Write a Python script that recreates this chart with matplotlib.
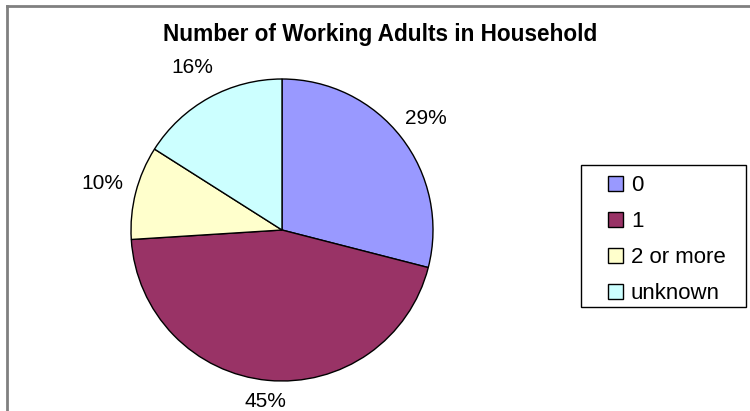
import numpy as np
import matplotlib
matplotlib.use("Agg")
import matplotlib.pyplot as plt
from matplotlib.lines import Line2D
from matplotlib.patches import Rectangle

categories = ["0", "1", "2 or more", "unknown"]
shares = [29, 45, 10, 16]
colors = ["#9999FF", "#993366", "#FFFFCC", "#CCFFFF"]
title = "Number of Working Adults in Household"

W, H = 750, 411
plt.rcParams["font.family"] = ["Liberation Sans", "DejaVu Sans"]

fig = plt.figure(figsize=(W / 100, H / 100), dpi=100)
ax = fig.add_axes([0, 0, 1, 1])

cx, cy, r = 282, H - 230, 151
wedges, _ = ax.pie(shares, colors=colors, startangle=90, counterclock=False,
                   center=(cx, cy), radius=r,
                   wedgeprops=dict(edgecolor="black", linewidth=1.0))
ax.set_xlim(0, W)
ax.set_ylim(0, H)
ax.set_aspect("equal")
ax.axis("off")

# percentage labels outside each slice
label_dist = [1.21, 1.14, 1.23, 1.23]
for w, v, d in zip(wedges, shares, label_dist):
    mid = np.deg2rad((w.theta1 + w.theta2) / 2)
    ax.text(cx + d * r * np.cos(mid), cy + d * r * np.sin(mid), f"{v}%",
            ha="center", va="center", fontsize=15, color="black")

fig.text(380 / W, 1 - 34 / H, title, ha="center", va="center",
         fontsize=16.3, fontweight="bold")

# chart area border (top and left edges)
fig.add_artist(Line2D([7 / W, 7 / W], [0, 1 - 6 / H], transform=fig.transFigure,
                      color="#808080", linewidth=2))
fig.add_artist(Line2D([7 / W, 1], [1 - 6 / H, 1 - 6 / H], transform=fig.transFigure,
                      color="#808080", linewidth=2))

# legend box
fig.add_artist(Rectangle((581 / W, 1 - 307 / H), (746 - 581) / W, (307 - 165) / H,
                         transform=fig.transFigure, facecolor="white",
                         edgecolor="black", linewidth=1.0))
fig.legend(wedges, categories, loc="upper left",
           bbox_to_anchor=(608 / W, 1 - 175 / H), frameon=False,
           fontsize=16, handlelength=0.68, handleheight=0.68,
           handletextpad=0.35, labelspacing=0.68, borderpad=0, borderaxespad=0)

fig.savefig("out.png", dpi=100)
